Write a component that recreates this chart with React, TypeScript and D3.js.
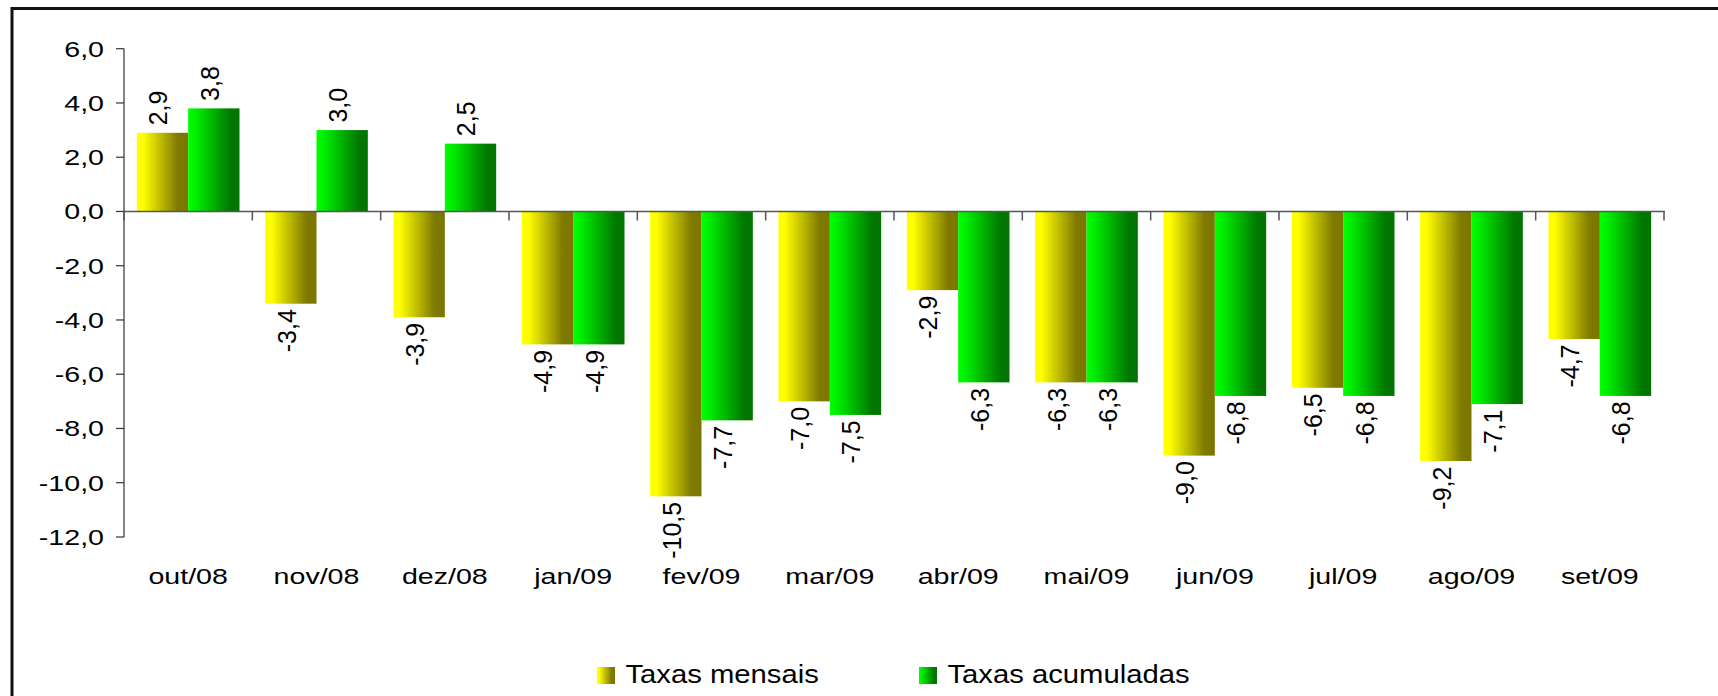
import React from "react";
import * as d3 from "d3";

const categories = ["out/08", "nov/08", "dez/08", "jan/09", "fev/09", "mar/09", "abr/09", "mai/09", "jun/09", "jul/09", "ago/09", "set/09"];
const seriesNames = ["Taxas mensais", "Taxas acumuladas"];
const taxasMensais = [2.9, -3.4, -3.9, -4.9, -10.5, -7.0, -2.9, -6.3, -9.0, -6.5, -9.2, -4.7];
const taxasAcumuladas = [3.8, 3.0, 2.5, -4.9, -7.7, -7.5, -6.3, -6.3, -6.8, -6.8, -7.1, -6.8];
const yTicks = [6, 4, 2, 0, -2, -4, -6, -8, -10, -12];

const W = 1718;
const H = 696;
const FONT = "'Liberation Sans', Arial, sans-serif";
const fmt = (v: number) => v.toFixed(1).replace(".", ",");

export default function App() {
  const x0 = d3.scaleBand<string>().domain(categories).range([124, 1664]).paddingInner(0.2).paddingOuter(0.1);
  const x1 = d3.scaleBand<string>().domain(seriesNames).range([0, x0.bandwidth()]);
  const y = d3.scaleLinear().domain([-12, 6]).range([537, 48.7]);
  const step = x0.step();
  const boundaries = d3.range(categories.length + 1).map((i) => 124 + i * step);
  const gradIds = ["gYellow", "gGreen"];
  const seriesData = [taxasMensais, taxasAcumuladas];

  return (
    <svg width={W} height={H} style={{ position: "absolute", left: 0, top: 0, background: "#fff" }} fontFamily={FONT}>
      <defs>
        <linearGradient id="gYellow" x1="0" x2="1" y1="0" y2="0">
          <stop offset="0" stopColor="#ffff00" />
          <stop offset="0.12" stopColor="#ffff00" />
          <stop offset="0.8" stopColor="#7f7a00" />
          <stop offset="1" stopColor="#7a7600" />
        </linearGradient>
        <linearGradient id="gGreen" x1="0" x2="1" y1="0" y2="0">
          <stop offset="0" stopColor="#00ff00" />
          <stop offset="0.14" stopColor="#00f000" />
          <stop offset="0.82" stopColor="#007800" />
          <stop offset="1" stopColor="#007400" />
        </linearGradient>
      </defs>
      <rect x={12} y={8.5} width={W + 20} height={H + 20} fill="#fff" stroke="#111" strokeWidth={3} />

      {/* bars */}
      {categories.map((c, i) => (
        <g key={c}>
          {seriesNames.map((s, si) => {
            const v = seriesData[si][i];
            const bx = (x0(c) as number) + (x1(s) as number);
            const bw = x1.bandwidth();
            return (
              <rect key={s} x={bx} width={bw} y={Math.min(y(v), y(0))} height={Math.abs(y(v) - y(0))} fill={`url(#${gradIds[si]})`} />
            );
          })}
        </g>
      ))}

      {/* y axis */}
      <line x1={124} x2={124} y1={y(6)} y2={y(-12)} stroke="#333" strokeWidth={1.2} />
      {yTicks.map((t) => (
        <g key={t}>
          <line x1={116} x2={124} y1={y(t)} y2={y(t)} stroke="#333" strokeWidth={1.2} />
          <text transform={`translate(104,${y(t)}) scale(1.3,1)`} textAnchor="end" dy="0.36em" fontSize={22} fill="#000">
            {fmt(t)}
          </text>
        </g>
      ))}

      {/* x axis at zero */}
      <line x1={124} x2={1665} y1={y(0)} y2={y(0)} stroke="#555" strokeWidth={1.5} />
      {boundaries.map((b, i) => (
        <line key={i} x1={b} x2={b} y1={y(0)} y2={y(0) + 9} stroke="#555" strokeWidth={1.5} />
      ))}

      {/* value labels */}
      {categories.map((c, i) =>
        seriesNames.map((s, si) => {
          const v = seriesData[si][i];
          const cx = (x0(c) as number) + (x1(s) as number) + x1.bandwidth() / 2 - 4;
          const ly = v >= 0 ? y(v) - 7.5 : y(v) + 5.5;
          return (
            <text
              key={c + s}
              transform={`translate(${cx},${ly}) rotate(-90)`}
              textAnchor={v >= 0 ? "start" : "end"}
              dy="0.35em"
              fontSize={25}
              fill="#000"
            >
              {fmt(v)}
            </text>
          );
        })
      )}

      {/* category labels */}
      {categories.map((c) => (
        <text key={c} transform={`translate(${(x0(c) as number) + x0.bandwidth() / 2},584) scale(1.3,1)`} textAnchor="middle" fontSize={22} fill="#000">
          {c}
        </text>
      ))}

      {/* legend */}
      {seriesNames.map((s, si) => {
        const lx = si === 0 ? 597 : 919;
        return (
          <g key={s}>
            <rect x={lx} y={667} width={18} height={17} fill={`url(#${gradIds[si]})`} />
            <text transform={`translate(${lx + 28.5},683.3) scale(1.17,1)`} fontSize={25} fill="#000">
              {s}
            </text>
          </g>
        );
      })}
    </svg>
  );
}
